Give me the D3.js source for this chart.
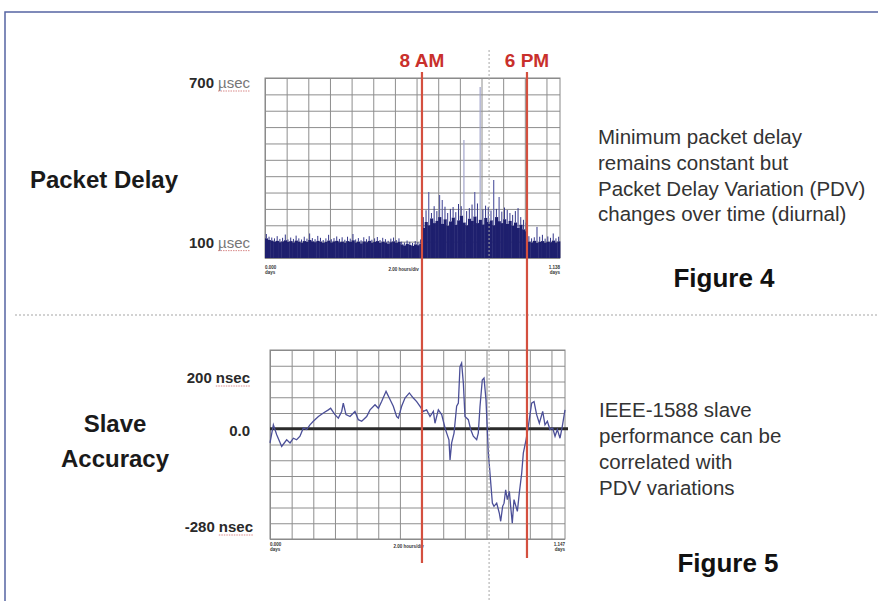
<!DOCTYPE html>
<html>
<head>
<meta charset="utf-8">
<script src="https://cdn.jsdelivr.net/npm/d3@7"></script>
<style>
  html, body { margin: 0; padding: 0; background: #fff; }
  svg { display: block; font-family: "Liberation Sans", Arial, Helvetica, sans-serif; }
</style>
</head>
<body>
<div id="chart"></div>
<script>
// ---- data ----
// time axis of both scope captures, in hours (2 hours / div)
const spanHours = 27.25;
const binHours = 0.25;
const gridHours = [0, 2, 4, 6, 8, 10, 12, 14, 16, 18, 20, 22, 24, 26];

// Figure 4 : packet delay (µsec), dense body top and peak per 15 min bin
const delayBody = [
  112, 106, 104, 100, 103, 98, 101, 105, 99, 102,
  97, 104, 100, 96, 102, 99, 106, 101, 98, 103,
  100, 95, 99, 104, 97, 101, 103, 98, 100, 96,
  102, 99, 105, 97, 100, 94, 101, 98, 103, 96,
  99, 102, 95, 100, 97, 93, 98, 101, 95, 99,
  90, 86, 92, 88, 84, 90, 87, 93,
  150, 172, 160, 185, 168, 176, 190, 165, 182, 158,
  174, 188, 162, 178, 195, 170, 160, 184, 176, 192,
  168, 180, 163, 187, 172, 178, 160, 190, 175, 168,
  182, 165, 176, 158, 170, 150, 162, 145, 138,
  100, 97, 103, 95, 99, 102, 96, 100, 98, 104, 97, 101
];
const delayPeak = [
  128, 118, 115, 112, 120, 110, 114, 126, 108, 115,
  110, 122, 112, 108, 118, 111, 130, 113, 109, 121,
  114, 106, 112, 125, 109, 113, 119, 110, 116, 107,
  118, 111, 128, 108, 113, 105, 116, 109, 120, 107,
  112, 117, 106, 114, 109, 103, 111, 115, 106, 112,
  100, 97, 104, 99, 95, 102, 98, 108,
  190, 215, 282, 205, 230, 212, 271, 253, 228, 205,
  220, 227, 208, 238, 230, 473, 212, 223, 236, 282,
  240, 667, 218, 232, 227, 214, 326, 220, 264, 210,
  225, 216, 205, 198, 212, 223, 190, 180, 170,
  120, 112, 116, 154, 118, 125, 111, 119, 114, 130, 112, 118
];
const delayGrid = [40, 100, 160, 220, 280, 340, 400, 460, 520, 580, 640, 700];
const delayLabels = [700, 100];

// Figure 5 : slave offset (nsec) vs time (hours)
const accHours = [
  0, 0.31, 0.62, 1.08, 1.54, 1.85, 2.16, 2.46, 2.77, 3.08,
  3.39, 3.69, 4.00, 4.47, 4.93, 5.39, 5.60, 6.00, 6.31, 6.62,
  6.77, 7.02, 7.39, 7.85, 8.16, 8.47, 8.93, 9.24, 9.70, 10.01,
  10.31, 10.72, 11.02, 11.39, 11.70, 11.86, 12.16, 12.47, 12.87, 13.24,
  13.55, 13.86, 14.16, 14.47, 14.78, 15.09, 15.24, 15.55, 15.86, 16.17,
  16.32, 16.53, 16.63, 16.78, 17.00, 17.24, 17.40, 17.55, 17.70, 17.86,
  18.01, 18.32, 18.54, 18.78, 19.09, 19.24, 19.40, 19.61, 19.77, 19.95,
  20.17, 20.32, 20.54, 20.69, 20.94, 21.18, 21.31, 21.49, 21.62, 21.77,
  21.92, 22.11, 22.23, 22.38, 22.54, 22.72, 22.85, 23.03, 23.25, 23.40,
  23.65, 23.86, 24.17, 24.39, 24.63, 24.88, 25.19, 25.40, 25.62, 25.86,
  26.11, 26.33, 26.54, 26.79, 27.00, 27.25
];
const accNsec = [
  -36, 10, -15, -45, -28, -36, -24, -28, -19, 2,
  -2, 10, 19, 31, 40, 48, 52, 36, 27, 44,
  65, 36, 31, 44, 23, 19, 31, 48, 61, 52,
  69, 95, 78, 57, 31, 27, 57, 78, 91, 78,
  69, 57, 44, 48, 31, 44, 14, 48, 36, 2,
  -11, -28, -79, -36, -11, 57, 65, 158, 167, 116,
  31, 23, -2, -19, -28, -11, 57, 124, 129, 74,
  -62, -113, -189, -197, -189, -214, -235, -197, -189, -155,
  -180, -159, -197, -240, -180, -197, -210, -163, -113, -62,
  -28, 6, 65, 69, 36, 14, 44, 10, 19, -2,
  2, -19, -2, -24, 6, 48
];
const accGrid = [-280, -240, -200, -160, -120, -80, -40, 0, 40, 80, 120, 160, 200];

// annotations
const markerHours = [14.5, 24.2];
const markerLabels = ["8 AM", "6 PM"];
const dividerHour = 20.7;

// ---- layout ----
const W = 878, H = 601;
const boxA = { x: 265, y: 78, w: 295, h: 180 };
const boxB = { x: 270, y: 350, w: 295, h: 189 };
const gridColor = "#8e8e8e";
const navy = "#1e1f6e";
const red = "#d4503f";

const svg = d3.select("#chart").append("svg")
    .attr("width", W)
    .attr("height", H);

// slide frame
svg.append("path")
    .attr("d", `M5,${H} V12 H${W}`)
    .attr("fill", "none")
    .attr("stroke", "#5564a3")
    .attr("stroke-width", 1.5);

// scales
const xA = d3.scaleLinear().domain([0, spanHours]).range([boxA.x, boxA.x + boxA.w]);
const yA = d3.scaleLinear().domain([40, 700]).range([boxA.y + boxA.h, boxA.y]);
const xB = d3.scaleLinear().domain([0, spanHours]).range([boxB.x, boxB.x + boxB.w]);
const yB = d3.scaleLinear().domain([-280, 200]).range([boxB.y + boxB.h, boxB.y]);

// grid drawn with the axes
function drawGrid(box, x, y, yTicks) {
  const g = svg.append("g");
  g.append("g")
      .attr("transform", `translate(0,${box.y + box.h})`)
      .call(d3.axisBottom(x).tickValues(gridHours).tickSize(-box.h).tickFormat(""))
      .call(a => a.select(".domain").remove())
      .selectAll("line").attr("stroke", gridColor);
  g.append("g")
      .attr("transform", `translate(${box.x},0)`)
      .call(d3.axisLeft(y).tickValues(yTicks).tickSize(-box.w).tickFormat(""))
      .call(a => a.select(".domain").remove())
      .selectAll("line").attr("stroke", gridColor);
  g.append("rect")
      .attr("x", box.x).attr("y", box.y)
      .attr("width", box.w).attr("height", box.h)
      .attr("fill", "none")
      .attr("stroke", "#888");
}
drawGrid(boxA, xA, yA, delayGrid);
drawGrid(boxB, xB, yB, accGrid);

// Figure 4 : peaks then dense body
const binW = xA(binHours) - xA(0);
svg.append("g")
    .selectAll("line")
    .data(delayPeak)
    .enter().append("line")
    .attr("x1", (d, i) => xA(i * binHours) + binW / 2)
    .attr("x2", (d, i) => xA(i * binHours) + binW / 2)
    .attr("y1", (d, i) => yA(delayBody[i]))
    .attr("y2", d => yA(d))
    .attr("stroke", d => d > 400 ? "#a2a5cc" : d > 250 ? "#5e62a6" : "#34378a")
    .attr("stroke-width", d => d > 250 ? 1.2 : 1);

svg.append("g")
    .selectAll("rect")
    .data(delayBody)
    .enter().append("rect")
    .attr("x", (d, i) => xA(i * binHours))
    .attr("y", d => yA(d))
    .attr("width", binW + 0.4)
    .attr("height", d => yA(40) - yA(d))
    .attr("fill", navy);

// Figure 5 : offset trace and zero line
svg.append("line")
    .attr("x1", boxB.x).attr("x2", boxB.x + boxB.w + 3)
    .attr("y1", yB(0)).attr("y2", yB(0))
    .attr("stroke", "#2b2b2b")
    .attr("stroke-width", 3);

svg.append("path")
    .datum(accHours.map((h, i) => [h, accNsec[i]]))
    .attr("fill", "none")
    .attr("stroke", "#4b4f98")
    .attr("stroke-width", 1.3)
    .attr("d", d3.line().x(d => xB(d[0])).y(d => yB(d[1])));

// tiny scope captions under each plot
function captions(box, yPos, endText) {
  const g = svg.append("g").attr("font-size", 4.5).attr("fill", "#333").attr("font-weight", "bold");
  g.append("text").attr("x", box.x).attr("y", yPos).text("0.000");
  g.append("text").attr("x", box.x).attr("y", yPos + 5).text("days");
  g.append("text").attr("x", box.x + box.w * 0.47).attr("y", yPos + 2).attr("text-anchor", "middle").text("2.00 hours/div");
  g.append("text").attr("x", box.x + box.w).attr("y", yPos).attr("text-anchor", "end").text(endText);
  g.append("text").attr("x", box.x + box.w).attr("y", yPos + 5).attr("text-anchor", "end").text("days");
}
captions(boxA, 269, "1.138");
captions(boxB, 546, "1.147");

// separators
svg.append("line")
    .attr("x1", 15).attr("x2", W)
    .attr("y1", 315).attr("y2", 315)
    .attr("stroke", "#c4c4c4")
    .attr("stroke-width", 1.5)
    .attr("stroke-dasharray", "2,2");

svg.append("line")
    .attr("x1", xA(dividerHour)).attr("x2", xA(dividerHour))
    .attr("y1", 50).attr("y2", 600)
    .attr("stroke", "#a8a8a8")
    .attr("stroke-dasharray", "2,2");

// 8 AM / 6 PM markers
const lineEnds = [563, 558];
svg.append("g")
    .selectAll("line")
    .data(markerHours)
    .enter().append("line")
    .attr("x1", d => xA(d)).attr("x2", d => xA(d))
    .attr("y1", 72)
    .attr("y2", (d, i) => lineEnds[i])
    .attr("stroke", red)
    .attr("stroke-width", 2.2);

svg.append("g")
    .selectAll("text")
    .data(markerHours)
    .enter().append("text")
    .attr("x", d => xA(d))
    .attr("y", 67)
    .attr("text-anchor", "middle")
    .attr("font-size", 19)
    .attr("font-weight", "bold")
    .attr("fill", "#c9302c")
    .text((d, i) => markerLabels[i]);

// value labels with underlined units
function valueLabel(num, unit, xEnd, yBase, unitColor, unitWeight) {
  let unitW = 0;
  if (unit) {
    const u = svg.append("text")
        .attr("x", xEnd).attr("y", yBase)
        .attr("text-anchor", "end")
        .attr("font-size", 15)
        .attr("font-weight", unitWeight)
        .attr("fill", unitColor)
        .text(unit);
    unitW = u.node().getComputedTextLength();
    svg.append("line")
        .attr("x1", xEnd - unitW).attr("x2", xEnd)
        .attr("y1", yBase + 3).attr("y2", yBase + 3)
        .attr("stroke", "#d98a8a")
        .attr("stroke-width", 1)
        .attr("stroke-dasharray", "1.5,1");
  }
  svg.append("text")
      .attr("x", xEnd - unitW - (unit ? 4 : 0)).attr("y", yBase)
      .attr("text-anchor", "end")
      .attr("font-size", 15)
      .attr("font-weight", "bold")
      .attr("fill", "#2a2a2a")
      .text(num);
}
valueLabel(String(delayLabels[0]), "µsec", 250, yA(delayLabels[0]) + 10, "#777", "normal");
valueLabel(String(delayLabels[1]), "µsec", 250, yA(delayLabels[1]) + 6, "#777", "normal");
valueLabel("200", "nsec", 250, 383, "#2a2a2a", "bold");
valueLabel("0.0", "", 250, 436, "#2a2a2a", "bold");
valueLabel("-280", "nsec", 253, 532, "#2a2a2a", "bold");

// section titles
const titles = svg.append("g")
    .attr("font-size", 24)
    .attr("font-weight", "bold")
    .attr("fill", "#1a1a1a");
titles.append("text").attr("x", 178).attr("y", 188).attr("text-anchor", "end").text("Packet Delay");
titles.append("text").attr("x", 115).attr("y", 432).attr("text-anchor", "middle").text("Slave");
titles.append("text").attr("x", 115).attr("y", 467).attr("text-anchor", "middle").text("Accuracy");

// notes on the right
function note(lines, x, y0, step) {
  const t = svg.append("text")
      .attr("font-size", 20.5)
      .attr("fill", "#333");
  lines.forEach((l, i) => {
    t.append("tspan").attr("x", x).attr("y", y0 + i * step).text(l);
  });
}
note(["Minimum packet delay", "remains constant but", "Packet Delay Variation (PDV)", "changes over time (diurnal)"], 598, 144, 25.8);
note(["IEEE-1588 slave", "performance can be", "correlated with", "PDV variations"], 599, 417, 26);

svg.append("text").attr("x", 724).attr("y", 287).attr("text-anchor", "middle")
    .attr("font-size", 26).attr("font-weight", "bold").attr("fill", "#111").text("Figure 4");
svg.append("text").attr("x", 728).attr("y", 572).attr("text-anchor", "middle")
    .attr("font-size", 26).attr("font-weight", "bold").attr("fill", "#111").text("Figure 5");
</script>
</body>
</html>
